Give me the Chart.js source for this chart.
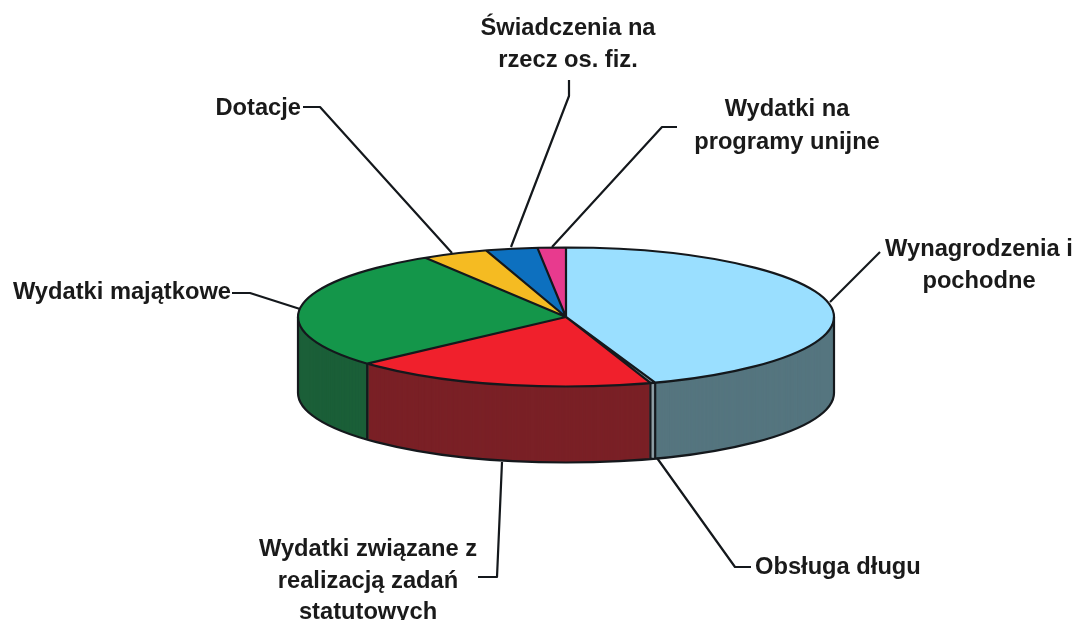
<!DOCTYPE html>
<html>
<head>
<meta charset="utf-8">
<style>
html, body { margin: 0; padding: 0; background: #fff; }
canvas { display: block; }
</style>
<script src="https://cdn.jsdelivr.net/npm/chart.js@4"></script>
</head>
<body>
<canvas id="pie3d" width="1077" height="620"></canvas>
<script>
const categories = ["Wynagrodzenia i pochodne", "Obsługa długu", "Wydatki związane z realizacją zadań statutowych",
    "Wydatki majątkowe", "Dotacje", "Świadczenia na rzecz os. fiz.", "Wydatki na programy unijne"];
const shares = [44.6, 0.3, 18.4, 27.9, 4.0, 3.1, 1.7];
const topColors = ["#9adfff", "#8aa0a8", "#f0202c", "#14964a", "#f5bb22", "#0d70bf", "#e83a8e"];
const wallColors = ["#55757f", "#8f9ea4", "#7a2026", "#1b5f38", "#7a5d11", "#07385f", "#741d47"];

// label text, one entry per line, and the leader line that goes with it
const labels = [
    { lines: ["Wynagrodzenia i", "pochodne"], x: 979, y: [249, 281], align: "center", leader: [[830, 302], [880, 252]] },
    { lines: ["Obsługa długu"], x: 755, y: [567], align: "left", leader: [[657, 458], [735, 567], [751, 567]] },
    { lines: ["Wydatki związane z", "realizacją zadań", "statutowych"], x: 368, y: [549, 581, 612], align: "center", leader: [[502, 462], [497, 577], [478, 577]] },
    { lines: ["Wydatki majątkowe"], x: 231, y: [292], align: "right", leader: [[232, 293], [250, 293], [300, 309]] },
    { lines: ["Dotacje"], x: 301, y: [108], align: "right", leader: [[303, 107], [320, 107], [452, 253]] },
    { lines: ["Świadczenia na", "rzecz os. fiz."], x: 568, y: [28, 60], align: "center", leader: [[569, 80], [569, 96], [511, 247]] },
    { lines: ["Wydatki na", "programy unijne"], x: 787, y: [109, 142], align: "center", leader: [[677, 127], [662, 127], [552, 247]] }
];

const squash = 69.5 / 268;
const depth = 76;

function flatten(ctx, cy, shift) {
    ctx.translate(0, cy + shift);
    ctx.scale(1, squash);
    ctx.translate(0, -cy);
}

const pie3d = {
    id: "pie3d",
    beforeDatasetsDraw(chart) {
        const ctx = chart.ctx;
        const arcs = chart.getDatasetMeta(0).data;
        const cy = arcs[0].y;
        //side wall: the same slices stacked from the bottom up
        for (let d = depth; d > 0; d--) {
            ctx.save();
            flatten(ctx, cy, d);
            arcs.forEach((arc, i) => {
                const saved = arc.options;
                arc.options = Object.assign({}, saved, { backgroundColor: wallColors[i] });
                arc.draw(ctx);
                arc.options = saved;
            });
            ctx.restore();
        }
        ctx.save();
        flatten(ctx, cy, 0);
    },
    afterDatasetsDraw(chart) {
        const ctx = chart.ctx;
        ctx.restore();
        const arcs = chart.getDatasetMeta(0).data;
        const cx = arcs[0].x, cy = arcs[0].y, rx = arcs[0].outerRadius, ry = rx * squash;

        ctx.strokeStyle = "#14181c";
        ctx.lineWidth = 2.2;
        ctx.lineJoin = "round";

        //outline of the wall
        ctx.beginPath();
        ctx.ellipse(cx, cy + depth, rx, ry, 0, 0, Math.PI);
        ctx.moveTo(cx + rx, cy);
        ctx.lineTo(cx + rx, cy + depth);
        ctx.moveTo(cx - rx, cy);
        ctx.lineTo(cx - rx, cy + depth);
        arcs.forEach(arc => {
            const s = Math.sin(arc.startAngle);
            if (s > 0) {
                const px = cx + rx * Math.cos(arc.startAngle), py = cy + ry * s;
                ctx.moveTo(px, py);
                ctx.lineTo(px, py + depth);
            }
        });
        ctx.stroke();

        //outline of the top face and the slice edges
        ctx.beginPath();
        ctx.ellipse(cx, cy, rx, ry, 0, 0, Math.PI * 2);
        arcs.forEach(arc => {
            ctx.moveTo(cx, cy);
            ctx.lineTo(cx + rx * Math.cos(arc.startAngle), cy + ry * Math.sin(arc.startAngle));
        });
        ctx.stroke();

        //leader lines and labels
        ctx.fillStyle = "#1a1a1a";
        ctx.font = 'bold 23.7px "Liberation Sans"';
        ctx.textBaseline = "middle";
        labels.forEach(label => {
            ctx.beginPath();
            label.leader.forEach((p, i) => i ? ctx.lineTo(p[0], p[1]) : ctx.moveTo(p[0], p[1]));
            ctx.stroke();
            ctx.textAlign = label.align;
            label.lines.forEach((line, i) => ctx.fillText(line, label.x, label.y[i]));
        });
    }
};

new Chart(document.getElementById("pie3d"), {
    type: "pie",
    data: {
        labels: categories,
        datasets: [{
            data: shares,
            backgroundColor: topColors,
            borderWidth: 0,
            clip: false
        }]
    },
    options: {
        responsive: false,
        animation: false,
        layout: { padding: { left: 298, right: 243, top: 49, bottom: 35 } },
        plugins: {
            legend: { display: false },
            tooltip: { enabled: false }
        }
    },
    plugins: [pie3d]
});
</script>
</body>
</html>
